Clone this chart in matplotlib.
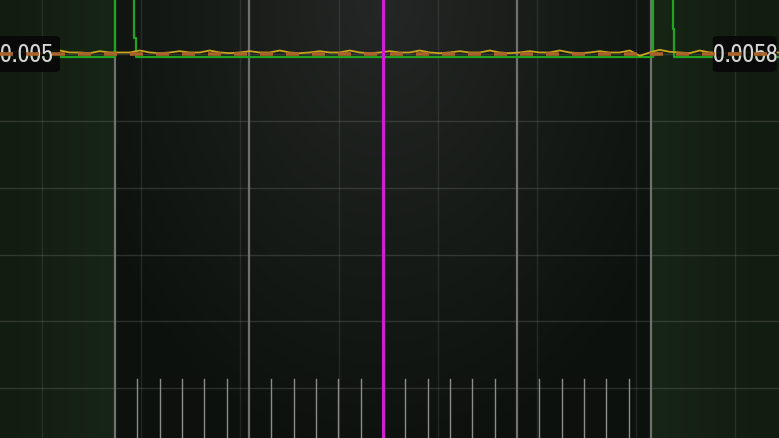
import numpy as np
import matplotlib
matplotlib.use("Agg")
import matplotlib.pyplot as plt
from matplotlib import font_manager
from matplotlib.patches import FancyBboxPatch

# time axis in divisions (0 = trigger / magenta cursor), level axis in divisions
x_view = (-2.858, 2.955)
y_view = (-5.75, 0.817)

major_div = [-2, -1, 1, 2]
cursor_x = 0
fine_grid_x = [-2.545, -1.806, -1.067, -0.328, 0.410, 1.149, 1.888, 2.627]
grid_y = [0, -1, -2, -3, -4, -5]
sub_ticks = [k / 6 for k in range(-12, 13) if k % 6 != 0]

# green channel (digital / trigger)
green_x = [-2.86, -2.0, -2.0, -1.855, -1.855, -1.845, -1.845, 2.015, 2.015, 2.162, 2.162, 2.172, 2.172, 2.96]
green_y = [-0.04, -0.04, 1.2, 1.2, 0.25, 0.25, -0.04, -0.04, 1.2, 1.2, 0.38, 0.38, -0.04, -0.04]

# yellow analog trace samples
yellow_y = [0.03, 0.03, 0.05, 0.03, 0.02, 0.03, 0.06, 0.03, 0.03, 0.02,
            0.05, 0.03, 0.03, 0.03, 0.06, 0.03, 0.02, 0.03, 0.05, 0.03,
            0.03, 0.06, 0.03, 0.02, 0.03, 0.05, 0.03, 0.03, 0.06, 0.03,
            0.02, 0.03, 0.05, 0.03, 0.03, 0.06, 0.03, 0.02, 0.03, 0.05,
            0.03, 0.03, 0.06, 0.03, 0.02, 0.03, 0.05, 0.03, 0.03, 0.06,
            0.03, 0.02, 0.03, 0.05, 0.03, 0.03, 0.06, 0.03, 0.02, 0.03,
            0.05, 0.03, 0.03, 0.06, -0.02, 0.03, 0.07, 0.04, 0.03, 0.02,
            0.06, 0.03, 0.03, 0.02, 0.05, 0.03, 0.06, 0.03, 0.03]
yellow_x = np.linspace(-2.86, 2.96, len(yellow_y))
ref_level = 0.008

left_label = "0.005"
right_label = "0.0058"

W, H = 779, 438
fig = plt.figure(figsize=(W / 100, H / 100), dpi=100)
ax = fig.add_axes([0, 0, 1, 1])
ax.set_xlim(*x_view)
ax.set_ylim(*y_view)
ax.axis("off")

# background: greenish outside the acquisition window, darker vignette inside
px = np.arange(W)[None, :] * np.ones((H, 1))
py = np.arange(H)[:, None] * np.ones((1, W))
win_l, win_r = 115, 651
c_center = np.array([36, 39, 37]) / 255
c_edge = np.array([12, 17, 13]) / 255
d = np.clip(np.sqrt(((px - 383) / 330) ** 2 + (py / 470) ** 2), 0, 1)[..., None]
inner = c_center * (1 - d) + c_edge * d
o_far = np.array([17, 29, 15]) / 255
o_near = np.array([23, 37, 22]) / 255
dist = np.minimum(np.abs(px - win_l), np.abs(px - win_r))
t = np.clip(dist / 110, 0, 1)[..., None]
outer = o_near * (1 - t) + o_far * t
inside = ((px >= win_l) & (px <= win_r))[..., None]
bg = np.where(inside, inner, outer)
ax.imshow(bg, extent=(*x_view, *y_view), aspect="auto", zorder=0, interpolation="bilinear")

for gx in fine_grid_x:
    ax.axvline(gx, color="#8a8f8a", alpha=0.18, lw=1, zorder=1)
for gy in grid_y:
    ax.axhline(gy, color="#8a8f8a", alpha=0.25, lw=1, zorder=1)
for mx in major_div:
    ax.axvline(mx, color="#707070", lw=1.6, zorder=2)
for sx in sub_ticks:
    ax.plot([sx, sx], [y_view[0], -4.865], color="#8c8c8c", lw=1, zorder=2)

ax.plot(green_x, green_y, color="#22a322", lw=1.6, zorder=3)
ax.plot(yellow_x, yellow_y, color="#c9a51c", lw=1.3, zorder=3)

# value labels: prefer a narrow face like the scope's readout font
lab_prop = font_manager.FontProperties(family="Roboto")
narrow = [f for f in font_manager.fontManager.ttflist
          if ("Narrow" in f.name or "Condensed" in f.name) and f.style == "normal"
          and f.weight in (400, "normal", "regular")]
narrow.sort(key=lambda f: 0 if "Narrow" in f.name else 1)
if narrow:
    lab_prop = font_manager.FontProperties(fname=narrow[0].fname)

renderer = fig.canvas.get_renderer()
size = 20
probe = fig.text(0, 0, right_label, fontproperties=lab_prop, fontsize=size)
wpx = probe.get_window_extent(renderer).width
probe.remove()
size = min(20, size * 65 / wpx)

boxes = [(-0.005, 0.077), (0.915, 0.997)]
for (bx0, bx1) in boxes:
    box = FancyBboxPatch((bx0, 1 - 72 / H), bx1 - bx0, 36 / H,
                         boxstyle="round,pad=0,rounding_size=0.006",
                         transform=ax.transAxes, fc="#080808", ec="none", alpha=0.92, zorder=4)
    ax.add_patch(box)
ax.text(53 / W, 1 - 55 / H, left_label, transform=ax.transAxes, fontproperties=lab_prop,
        fontsize=size, color="#d6d6d6", ha="right", va="center", zorder=5)
ax.text(712.5 / W, 1 - 55 / H, right_label, transform=ax.transAxes, fontproperties=lab_prop,
        fontsize=size, color="#d6d6d6", ha="left", va="center", zorder=5)

ln, = ax.plot(x_view, [ref_level, ref_level], color="#a8642a", lw=2.6, zorder=6)
ln.set_dashes((3.6, 3.6))

ax.axvline(cursor_x, color="#d21ed2", lw=2.2, zorder=7)

fig.savefig("out.png", dpi=100)
